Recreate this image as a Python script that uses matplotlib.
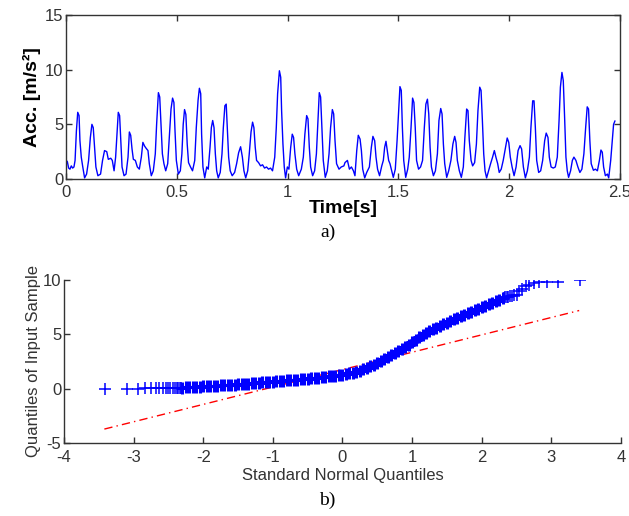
import matplotlib
matplotlib.use("Agg")
import matplotlib.pyplot as plt
import numpy as np

# panel a) acceleration trace
time_s = [
    0.000, 0.006, 0.012, 0.018, 0.024, 0.030, 0.036, 0.041, 0.047, 0.053, 0.059, 0.063, 0.069, 0.075,
    0.084, 0.093, 0.102, 0.110, 0.117, 0.123, 0.129, 0.135, 0.144, 0.156, 0.165, 0.174, 0.184, 0.191,
    0.202, 0.209, 0.217, 0.224, 0.230, 0.236, 0.242, 0.247, 0.253, 0.262, 0.271, 0.280, 0.286, 0.292,
    0.298, 0.304, 0.313, 0.322, 0.331, 0.340, 0.347, 0.355, 0.362, 0.370, 0.376, 0.385, 0.394, 0.403,
    0.409, 0.417, 0.423, 0.429, 0.435, 0.442, 0.450, 0.459, 0.466, 0.474, 0.481, 0.487, 0.492, 0.498,
    0.507, 0.516, 0.523, 0.529, 0.535, 0.541, 0.547, 0.553, 0.562, 0.571, 0.581, 0.588, 0.596, 0.602,
    0.608, 0.612, 0.618, 0.626, 0.635, 0.642, 0.650, 0.656, 0.662, 0.668, 0.674, 0.680, 0.687, 0.696,
    0.704, 0.710, 0.717, 0.723, 0.728, 0.734, 0.741, 0.750, 0.761, 0.770, 0.779, 0.788, 0.796, 0.803,
    0.811, 0.820, 0.827, 0.835, 0.842, 0.848, 0.854, 0.860, 0.869, 0.878, 0.887, 0.896, 0.905, 0.914,
    0.923, 0.932, 0.942, 0.949, 0.955, 0.963, 0.969, 0.973, 0.979, 0.985, 0.991, 0.999, 1.006, 1.014,
    1.021, 1.027, 1.033, 1.041, 1.050, 1.062, 1.071, 1.078, 1.086, 1.092, 1.098, 1.104, 1.113, 1.122,
    1.130, 1.137, 1.143, 1.149, 1.155, 1.161, 1.170, 1.179, 1.187, 1.194, 1.202, 1.208, 1.214, 1.221,
    1.232, 1.242, 1.254, 1.259, 1.270, 1.279, 1.288, 1.297, 1.304, 1.312, 1.319, 1.327, 1.333, 1.339,
    1.348, 1.357, 1.369, 1.378, 1.385, 1.393, 1.399, 1.406, 1.415, 1.425, 1.432, 1.438, 1.444, 1.450,
    1.456, 1.462, 1.470, 1.477, 1.486, 1.494, 1.501, 1.507, 1.513, 1.518, 1.524, 1.533, 1.542, 1.549,
    1.557, 1.564, 1.570, 1.576, 1.582, 1.591, 1.600, 1.609, 1.617, 1.624, 1.631, 1.637, 1.643, 1.649,
    1.658, 1.667, 1.676, 1.683, 1.691, 1.697, 1.703, 1.709, 1.718, 1.727, 1.737, 1.746, 1.754, 1.760,
    1.766, 1.775, 1.784, 1.793, 1.800, 1.808, 1.814, 1.820, 1.828, 1.835, 1.844, 1.852, 1.859, 1.867,
    1.873, 1.879, 1.885, 1.891, 1.898, 1.907, 1.916, 1.925, 1.933, 1.940, 1.948, 1.955, 1.964, 1.973,
    1.982, 1.991, 1.998, 2.005, 2.013, 2.022, 2.031, 2.040, 2.049, 2.056, 2.064, 2.073, 2.082, 2.091,
    2.098, 2.106, 2.112, 2.118, 2.124, 2.133, 2.142, 2.151, 2.160, 2.167, 2.175, 2.181, 2.189, 2.199,
    2.208, 2.217, 2.225, 2.231, 2.238, 2.244, 2.250, 2.256, 2.262, 2.268, 2.277, 2.285, 2.292, 2.301,
    2.310, 2.319, 2.328, 2.337, 2.345, 2.352, 2.358, 2.364, 2.370, 2.380, 2.389, 2.398, 2.407, 2.414,
    2.420, 2.426, 2.434, 2.443, 2.449, 2.458, 2.465, 2.471, 2.477,
]
acc = [
    1.7, 1.6, 1.0, 0.9, 1.2, 1.0, 1.1, 1.7, 4.4, 6.1, 5.8, 3.5, 2.0, 1.2,
    0.1, 0.45, 1.7, 3.8, 5.0, 4.7, 2.9, 1.1, 0.3, 0.45, 1.7, 2.6, 2.5, 1.8,
    1.9, 1.7, 0.75, 2.0, 4.0, 6.1, 5.8, 3.7, 1.1, 0.3, 0.45, 2.0, 4.3, 4.0,
    2.75, 1.8, 1.7, 1.1, 0.9, 2.0, 3.35, 3.0, 2.8, 2.6, 1.4, 0.3, 0.75, 2.3,
    5.0, 7.9, 7.5, 4.9, 2.3, 1.4, 0.75, 1.4, 3.8, 6.4, 7.4, 7.0, 4.4, 1.7,
    0.45, 0.75, 2.3, 5.0, 6.35, 5.9, 3.2, 1.5, 1.1, 0.75, 1.7, 4.7, 7.2, 8.3,
    7.8, 4.1, 1.1, 0.1, 1.1, 0.9, 2.9, 4.7, 5.35, 4.7, 2.3, 0.75, 0.1, 0.6,
    2.3, 4.7, 6.7, 6.85, 4.7, 2.0, 0.75, 0.3, 0.6, 1.4, 2.4, 2.95, 2.0, 0.75,
    0.1, 0.75, 2.3, 4.3, 5.2, 4.7, 2.9, 1.7, 1.5, 1.2, 1.3, 1.0, 1.1, 0.9,
    1.0, 0.75, 2.0, 4.7, 7.8, 9.9, 9.3, 6.25, 3.2, 1.1, 0.1, 1.1, 0.9, 2.9,
    4.1, 3.8, 2.3, 0.9, 0.3, 0.9, 2.0, 4.1, 5.8, 5.5, 2.9, 1.1, 0.3, 0.75,
    2.3, 5.35, 7.9, 7.5, 4.7, 1.7, 0.15, 0.75, 2.3, 4.7, 6.35, 5.95, 3.5, 1.4,
    0.9, 1.1, 1.2, 1.5, 1.7, 0.9, 1.1, 0.75, 0.3, 2.6, 4.0, 3.65, 2.6, 0.9,
    0.1, 0.6, 1.1, 2.9, 3.9, 3.5, 2.0, 0.9, 0.3, 1.2, 1.7, 2.9, 3.45, 2.6,
    1.7, 1.4, 0.75, 0.15, 0.9, 3.5, 6.25, 8.45, 8.1, 4.7, 1.7, 0.15, 0.9, 2.0,
    4.7, 7.4, 7.0, 4.7, 1.7, 0.9, 1.1, 1.7, 4.7, 6.85, 7.3, 5.95, 2.9, 1.1,
    0.3, 0.75, 2.3, 5.35, 6.45, 5.95, 3.2, 1.4, 0.15, 0.75, 1.7, 3.2, 3.9, 3.35,
    1.7, 0.75, 0.15, 1.1, 3.8, 6.4, 6.25, 3.5, 1.7, 1.2, 1.5, 3.2, 6.25, 8.4,
    8.1, 5.35, 2.3, 0.75, 0.1, 0.75, 1.4, 2.0, 2.6, 2.0, 1.4, 0.6, 0.9, 1.7,
    2.75, 3.75, 3.35, 2.0, 1.1, 0.3, 1.1, 2.6, 3.05, 2.75, 1.1, 0.1, 0.75, 2.0,
    4.7, 7.15, 7.15, 4.7, 1.7, 0.6, 0.75, 1.7, 3.5, 4.2, 3.8, 2.0, 1.1, 1.0,
    1.1, 2.0, 5.35, 8.4, 9.75, 9.0, 5.65, 2.0, 0.75, 0.15, 0.75, 1.7, 2.0, 1.7,
    1.1, 0.6, 0.9, 2.3, 4.7, 6.6, 6.4, 3.5, 1.4, 0.8, 0.9, 0.75, 1.7, 2.65,
    2.45, 1.1, 0.3, 0.45, 0.1, 1.7, 3.5, 5.0, 5.3,
]

# panel b) normal probability plot
qq_left_x = [-3.41, -3.09, -2.94, -2.83, -2.75, -2.68, -2.63, -2.58, -2.54,
             -2.50, -2.47, -2.44, -2.41, -2.38, -2.36, -2.34, -2.32]
qq_left_y = [0.0, 0.0, 0.0, 0.02, 0.02, 0.03, 0.03, 0.04, 0.04,
             0.05, 0.05, 0.06, 0.06, 0.07, 0.07, 0.08, 0.08]
# dense middle part, theoretical quantiles -2.30 .. 2.30 every 0.05
qq_band_y = [
    0.09, 0.11, 0.13, 0.15, 0.16, 0.18, 0.20, 0.22, 0.24, 0.26, 0.28, 0.30,
    0.32, 0.34, 0.36, 0.38, 0.40, 0.42, 0.45, 0.47, 0.50, 0.52, 0.55, 0.57,
    0.60, 0.62, 0.65, 0.68, 0.70, 0.73, 0.76, 0.78, 0.81, 0.83, 0.86, 0.89,
    0.92, 0.95, 0.98, 1.02, 1.05, 1.09, 1.13, 1.17, 1.21, 1.25, 1.30, 1.35,
    1.41, 1.48, 1.55, 1.65, 1.77, 1.90, 2.05, 2.22, 2.40, 2.58, 2.75, 2.92,
    3.10, 3.28, 3.45, 3.64, 3.84, 4.04, 4.25, 4.50, 4.75, 4.97, 5.15, 5.30,
    5.45, 5.60, 5.75, 5.92, 6.08, 6.24, 6.40, 6.54, 6.68, 6.82, 6.95, 7.09,
    7.23, 7.37, 7.50, 7.64, 7.78, 7.92, 8.05, 8.20, 8.33,
]
qq_right_x = [2.32, 2.34, 2.36, 2.38, 2.41, 2.44, 2.47, 2.50, 2.54,
              2.58, 2.63, 2.68, 2.75, 2.83, 2.94, 3.09, 3.41]
qq_right_y = [8.38, 8.40, 8.45, 8.45, 8.50, 8.55, 8.60, 8.65, 8.95,
              9.20, 9.45, 9.55, 9.70, 9.78, 9.82, 9.85, 10.0]
# red dash-dot reference line
ref_x = [-3.42, 3.40]
ref_y = [-3.72, 7.19]

SANS = ["Liberation Sans", "DejaVu Sans"]
SERIF = ["Liberation Serif", "DejaVu Serif"]
AX_COL = "#333333"
plt.rcParams["font.family"] = SANS
plt.rcParams["axes.unicode_minus"] = False

fig = plt.figure(figsize=(6.29, 5.16), dpi=100)

# ---- a) time trace
ax1 = fig.add_axes([0.1049, 0.6531, 0.8808, 0.3178])
ax1.plot(time_s, acc, color="#0000ff", lw=1.0)
ax1.set_xlim(0, 2.5)
ax1.set_ylim(0, 15)
ax1.set_xticks([0, 0.5, 1, 1.5, 2, 2.5])
ax1.set_xticklabels(["0", "0.5", "1", "1.5", "2", "2.5"])
ax1.set_yticks([0, 5, 10, 15])
ax1.tick_params(direction="in", length=4, width=1, colors=AX_COL, labelsize=12,
                top=True, right=True, pad=2)
ax1.tick_params(axis="x", pad=4)
for sp in ax1.spines.values():
    sp.set_color(AX_COL)
    sp.set_linewidth(1)
ax1.set_xlabel("Time[s]", fontsize=14, fontweight="bold", labelpad=0)
ax1.set_ylabel("Acc. [m/s²]", fontsize=14, fontweight="bold", labelpad=3)

# ---- b) QQ plot
ax2 = fig.add_axes([0.1017, 0.1415, 0.8855, 0.3159])
band_x = np.linspace(-2.30, 2.30, len(qq_band_y))
tail_x = qq_left_x + qq_right_x
tail_y = qq_left_y + qq_right_y
ax2.plot(ref_x, ref_y, color="#ff0000", lw=1.0, dashes=(6, 3, 1, 3), zorder=1)
ax2.plot(band_x, qq_band_y, ls="none", marker="+", ms=9, mew=2.2, color="#0000ff", zorder=2)
ax2.plot(tail_x, tail_y, ls="none", marker="+", ms=8, mew=1.1, color="#0000ff", zorder=2)
ax2.set_xlim(-4, 4)
ax2.set_ylim(-5, 10)
ax2.set_xticks(range(-4, 5))
ax2.set_yticks([-5, 0, 5, 10])
ax2.spines["top"].set_visible(False)
ax2.spines["right"].set_visible(False)
for sp in ("left", "bottom"):
    ax2.spines[sp].set_color(AX_COL)
    ax2.spines[sp].set_linewidth(1)
ax2.tick_params(direction="in", length=4, width=1, colors=AX_COL, labelsize=12, pad=2)
ax2.tick_params(axis="x", pad=5)
ax2.set_xlabel("Standard Normal Quantiles", fontsize=12, color=AX_COL, labelpad=2)
ax2.set_ylabel("Quantiles of Input Sample", fontsize=12, color=AX_COL, labelpad=1)

fig.text(0.521, 1 - 232 / 516, "a)", fontsize=14, family=SERIF, ha="center", va="center")
fig.text(0.521, 1 - 500 / 516, "b)", fontsize=14, family=SERIF, ha="center", va="center")

fig.savefig("out.png", dpi=100)
